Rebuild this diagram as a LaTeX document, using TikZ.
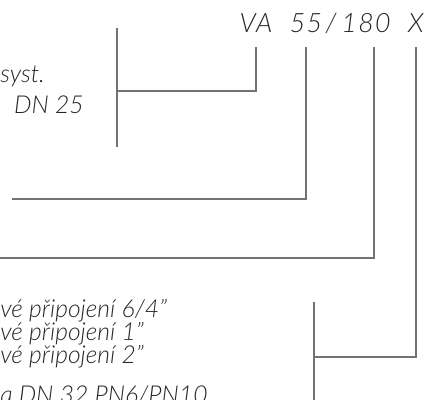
\documentclass[tikz,border=0pt]{standalone}
\usepackage{fontspec}
\setmainfont{Lato}[ItalicFont={* Light Italic}]
\tikzset{
  note/.style={font=\itshape\fontsize{18.5}{22}\selectfont, text=black!85, inner sep=0pt, anchor=base west},
  code/.style={note, font=\itshape\fontsize{20}{24}\selectfont\addfontfeatures{LetterSpace=5}, anchor=base},
  lead/.style={draw=black!55, line width=1.4pt}
}

\begin{document}
\begin{tikzpicture}[x=0.75pt, y=-0.75pt]
  \clip (0,0) rectangle (426,400);
  % type code
  \node[code] (va) at (256,32) {VA};
  \node[code] (size) at (306,32) {55};
  \node[code] (slash) at (331,32) {/};
  \node[code] (len) at (366,32) {180};
  \node[code] (var) at (416,32) {X};
  % notes
  \node[note] (sys) at (0,82) {syst.};
  \node[note, anchor=base east] (dn25) at (84,113) {DN 25};
  \node[note] (con1) at (0,317) {vé připojení 6/4”};
  \node[note] (con2) at (0,340) {vé připojení 1”};
  \node[note] (con3) at (0,363) {vé připojení 2”};
  \node[note] (con4) at (0,403) {a DN 32 PN6/PN10};
  % leader points
  \coordinate (top) at (0,47);
  \coordinate (lenTop) at (374,47);
  \coordinate (brA1) at (117,28);
  \coordinate (brA2) at (117,147);
  \coordinate (brA) at (117,91);
  \coordinate (sizeEnd) at (12,199);
  \coordinate (lenEnd) at (-5,258);
  \coordinate (brB1) at (314,302);
  \coordinate (brB2) at (314,410);
  \coordinate (brB) at (314,357);
  % leaders
  \draw[lead] (brA1) -- (brA2);
  \draw[lead] (va.base |- top) |- (brA);
  \draw[lead] (size.base |- top) |- (sizeEnd);
  \draw[lead] (lenTop) |- (lenEnd);
  \draw[lead] (var.base |- top) |- (brB);
  \draw[lead] (brB1) -- (brB2);
\end{tikzpicture}
\end{document}
